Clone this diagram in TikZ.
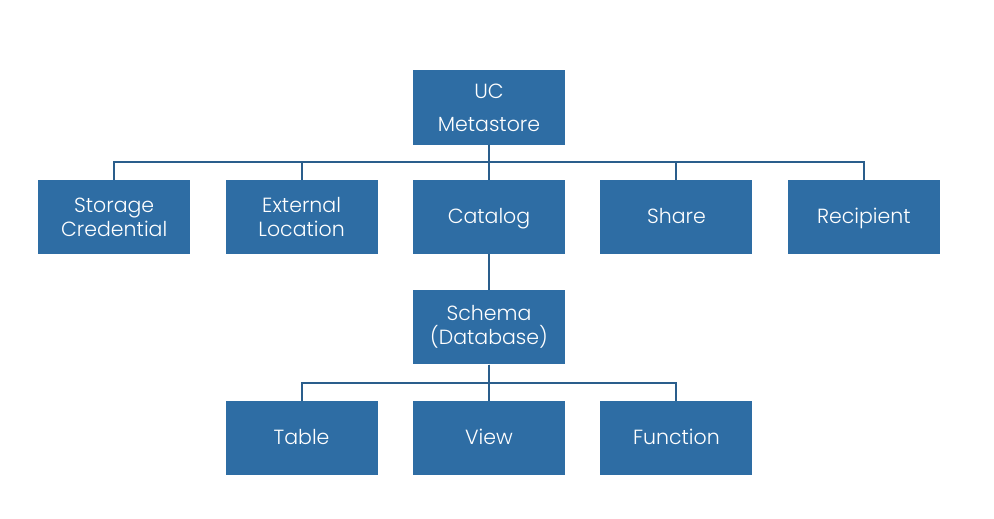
\documentclass[tikz,border=0pt]{standalone}
\usepackage{fontspec}
\setmainfont{Poppins Light}
\usepackage{tikz}
\usetikzlibrary{positioning}
\definecolor{boxblue}{HTML}{2E6DA4}
\definecolor{lineblue}{HTML}{2A5E8C}
\tikzstyle{unit} = [rectangle, minimum width=152pt, minimum height=74pt, inner sep=0pt, text centered, align=center, fill=boxblue, text=white, font=\fontsize{20.5}{24}\selectfont]
\tikzstyle{single} = [unit, text height=14pt, text depth=0pt]
\tikzstyle{link} = [draw=lineblue, line width=2pt]

\begin{document}
\begin{tikzpicture}[x=1pt, y=1pt]
	\useasboundingbox (0,0) rectangle (994,-519);
	\node (metastore) [unit] at (489,-107.5) {UC\\[9pt]Metastore};
	\node (catalog) [single, below=35pt of metastore] {Catalog};
	\node (location) [unit, left=35pt of catalog] {External\\Location};
	\node (credential) [unit, left=35pt of location] {Storage\\Credential};
	\node (share) [single, right=35pt of catalog] {Share};
	\node (recipient) [single, right=35pt of share] {Recipient};
	\node (schema) [unit, below=36pt of catalog] {Schema\\(Database)};
	\node (view) [single, below=36pt of schema] {View};
	\node (table) [single, left=35pt of view] {Table};
	\node (function) [single, right=35pt of view] {Function};

	\draw [link](metastore.south) -- ++(0,-17.5) -| (credential.north);
	\draw [link](metastore.south) -- ++(0,-17.5) -| (location.north);
	\draw [link](metastore.south) -- (catalog.north);
	\draw [link](metastore.south) -- ++(0,-17.5) -| (share.north);
	\draw [link](metastore.south) -- ++(0,-17.5) -| (recipient.north);
	\draw [link](catalog) -- (schema);
	\draw [link](schema.south) -- ++(0,-18) -| (table.north);
	\draw [link](schema.south) -- (view.north);
	\draw [link](schema.south) -- ++(0,-18) -| (function.north);
\end{tikzpicture}
\end{document}
